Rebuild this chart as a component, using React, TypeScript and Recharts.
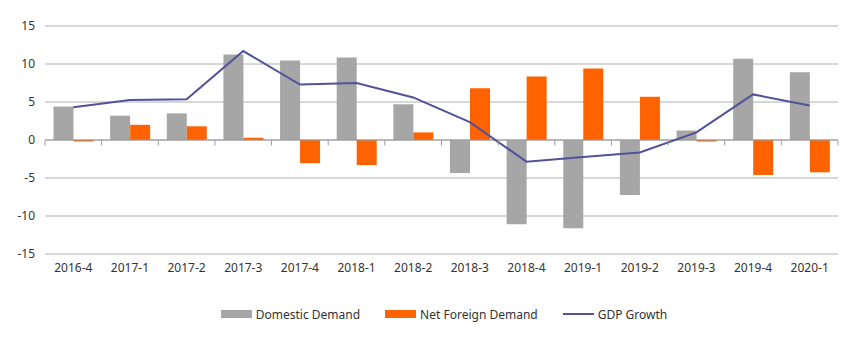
import { Bar, CartesianGrid, ComposedChart, Legend, Line, ReferenceLine, XAxis, YAxis } from "recharts";

const QUARTERS = [
  "2016-4", "2017-1", "2017-2", "2017-3", "2017-4", "2018-1", "2018-2",
  "2018-3", "2018-4", "2019-1", "2019-2", "2019-3", "2019-4", "2020-1",
];
const DOMESTIC = [4.4, 3.2, 3.5, 11.25, 10.45, 10.85, 4.7, -4.35, -11.1, -11.6, -7.25, 1.25, 10.7, 8.9];
const NET_FOREIGN = [-0.2, 2.0, 1.8, 0.3, -3.05, -3.3, 1.0, 6.8, 8.35, 9.4, 5.7, -0.2, -4.6, -4.25];
const GDP = [4.3, 5.25, 5.35, 11.7, 7.3, 7.5, 5.6, 2.35, -2.85, -2.25, -1.65, 1.0, 6.0, 4.55];
const Y_TICKS = [-15, -10, -5, 0, 5, 10, 15];

const COLORS = { domestic: "#A6A6A6", foreign: "#FF6200", gdp: "#525199" };
const FONT = "'Noto Sans', sans-serif";
const TEXT = "#333333";

const data = QUARTERS.map((q, i) => ({
  quarter: q,
  domestic: DOMESTIC[i],
  foreign: NET_FOREIGN[i],
  gdp: GDP[i],
}));

const LEGEND_ITEMS = [
  { label: "Domestic Demand", color: COLORS.domestic, kind: "bar" },
  { label: "Net Foreign Demand", color: COLORS.foreign, kind: "bar" },
  { label: "GDP Growth", color: COLORS.gdp, kind: "line" },
];

function ChartLegend() {
  return (
    <div
      style={{
        display: "flex",
        justifyContent: "center",
        gap: 25,
        paddingLeft: 50,
        fontFamily: FONT,
        fontSize: 12,
        color: TEXT,
        height: 16,
      }}
    >
      {LEGEND_ITEMS.map((it) => (
        <div key={it.label} style={{ display: "flex", alignItems: "center", gap: 4 }}>
          <span
            style={{
              display: "inline-block",
              width: 31,
              height: it.kind === "bar" ? 8 : 2,
              background: it.color,
            }}
          />
          <span>{it.label}</span>
        </div>
      ))}
    </div>
  );
}

// x tick: label below the plot plus a small boundary tick hanging off the zero line
function QuarterTick(props: any) {
  const { x, y, payload } = props;
  const half = payload?.offset ?? 28.3;
  const zeroY = 140.5;
  return (
    <g>
      <line x1={x - half} x2={x - half} y1={zeroY} y2={zeroY + 5} stroke="#999" />
      {payload.index === QUARTERS.length - 1 && (
        <line x1={x + half} x2={x + half} y1={zeroY} y2={zeroY + 5} stroke="#999" />
      )}
      <text x={x} y={y} dy="0.71em" textAnchor="middle" fill={TEXT} fontFamily={FONT} fontSize={12}>
        {payload.value}
      </text>
    </g>
  );
}

export default function App() {
  return (
    <div style={{ position: "absolute", left: 0, top: 0, background: "#fff" }}>
      <ComposedChart
        width={853}
        height={339}
        data={data}
        margin={{ top: 26, right: 15, left: 0, bottom: 17 }}
        barCategoryGap="15%"
        barGap={0}
      >
        <CartesianGrid vertical={false} stroke="#B0B0B0" />
        <XAxis
          dataKey="quarter"
          axisLine={false}
          tickLine={false}
          tickSize={0}
          tickMargin={9}
          height={52}
          interval={0}
          tick={<QuarterTick />}
        />
        <YAxis
          domain={[-15, 15]}
          ticks={Y_TICKS}
          axisLine={false}
          tickLine={false}
          tickSize={0}
          tickMargin={10}
          width={45}
          tick={{ fill: TEXT, fontFamily: FONT, fontSize: 12 }}
        />
        <ReferenceLine y={0} stroke="#999" />
        <Bar dataKey="domestic" name="Domestic Demand" fill={COLORS.domestic} isAnimationActive={false} />
        <Bar dataKey="foreign" name="Net Foreign Demand" fill={COLORS.foreign} isAnimationActive={false} />
        <Line
          dataKey="gdp"
          name="GDP Growth"
          stroke={COLORS.gdp}
          strokeWidth={2}
          dot={false}
          type="linear"
          isAnimationActive={false}
        />
        <Legend verticalAlign="bottom" content={<ChartLegend />} />
      </ComposedChart>
    </div>
  );
}
